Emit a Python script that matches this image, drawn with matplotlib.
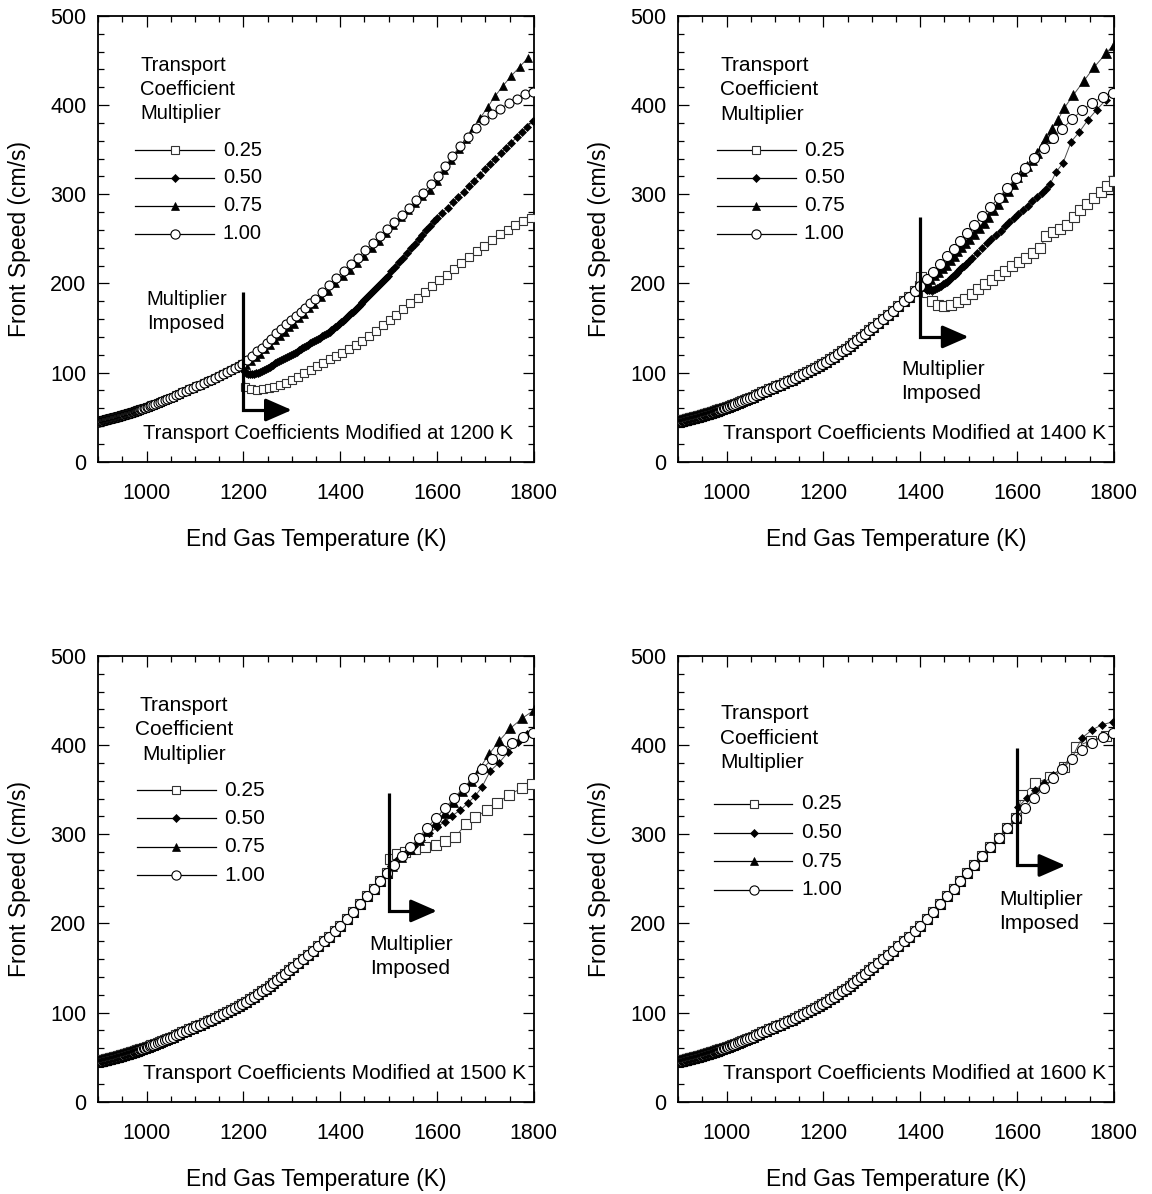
import numpy as np
import matplotlib
matplotlib.use('Agg')
import matplotlib.pyplot as plt
from matplotlib.ticker import MultipleLocator

plt.rcParams.update({'font.family': 'Liberation Sans', 'font.size': 15})

# unmodified run (multiplier 1.00), shared by every case up to the switch point
base_T = np.array([
    900, 901, 902, 903, 904, 905, 906, 907, 908, 909, 910, 911, 912, 913, 914,
    915, 916, 917, 918, 919, 920, 921, 922, 923, 924, 925, 926, 927, 928, 929,
    930,
    931, 932, 933, 934, 935, 936, 937, 938, 939, 940, 941, 942, 943, 944, 945,
    946, 947, 948, 949, 950, 951, 952, 953, 954, 955, 956, 957, 958, 959, 960,
    961, 962, 963, 964, 965, 966, 967, 968, 969, 970, 971, 972, 973, 974, 975,
    976, 977, 978, 979, 980, 981, 982, 983, 984, 985,
    987, 989, 991, 993.5, 996.5, 1000,
    1003, 1006.5, 1010, 1014, 1018, 1022.5, 1027, 1032, 1037, 1042, 1048,
    1054, 1060, 1067, 1074, 1081, 1088, 1095, 1102, 1110, 1118, 1126, 1134,
    1142, 1150, 1158, 1166, 1174, 1182, 1190, 1198,
    1206, 1214, 1222, 1230, 1238, 1246, 1254, 1262, 1270, 1278, 1286, 1294,
    1303, 1313, 1323, 1333, 1344, 1355, 1366, 1377, 1389, 1400, 1414, 1427,
    1441, 1455, 1469, 1483, 1497, 1512, 1528, 1545, 1562, 1580, 1598, 1617,
    1636, 1655, 1674, 1694, 1714, 1734, 1755, 1777, 1798])
base_v = np.array([
    45.0, 45.1, 45.3, 45.4, 45.6, 45.7, 45.8, 46.0, 46.1, 46.3, 46.4, 46.5, 46.7, 46.8, 47.0,
    47.1, 47.2, 47.4, 47.5, 47.7, 47.8, 47.9, 48.1, 48.2, 48.4, 48.5, 48.6, 48.8, 48.9, 49.1,
    49.2,
    49.4, 49.5, 49.7, 49.8, 50.0, 50.1, 50.3, 50.4, 50.6, 50.7, 50.9, 51.0, 51.2, 51.4, 51.5,
    51.7, 51.8, 52.0, 52.1, 52.3, 52.4, 52.6, 52.7, 52.9, 53.0, 53.2, 53.3, 53.5, 53.6, 53.8,
    54.0, 54.2, 54.3, 54.5, 54.7, 54.9, 55.1, 55.2, 55.4, 55.6, 55.8, 56.0, 56.1, 56.3, 56.5,
    56.7, 56.9, 57.0, 57.2, 57.4, 57.6, 57.8, 57.9, 58.1, 58.3,
    58.7, 59.0, 59.4, 59.8, 60.4, 61.0,
    61.7, 62.4, 63.2, 64.1, 65.0, 66.0, 67.0, 68.0, 69.1, 70.2, 71.6,
    73.0, 74.4, 76.1, 77.8, 79.4, 81.1, 82.8, 84.5, 86.4, 88.4, 90.2, 92.2,
    94.2, 96.2, 98.2, 100.4, 102.5, 104.8, 107.1, 109.5,
    112.2, 115.0, 117.8, 120.8, 123.8, 126.9, 130.1, 133.4, 136.8, 140.3, 143.8, 147.3,
    151.3, 155.7, 160.1, 164.5, 169.4, 174.4, 179.8, 185.2, 191.3, 197.0, 205.3, 213.2,
    221.7, 230.3, 239.1, 247.9, 256.6, 265.6, 275.2, 285.5, 296.1, 307.3, 318.0, 329.5,
    341.0, 352.2, 362.8, 373.5, 384.3, 394.0, 402.6, 409.5, 414.0])

# --- modified at 1200 K ---
p1_sq_T = [1204, 1216, 1228, 1240, 1252, 1264, 1276, 1288, 1300, 1313, 1326, 1339,
           1352, 1365, 1378, 1391, 1404, 1418, 1432, 1446, 1460, 1474, 1488, 1502,
           1516, 1530, 1545, 1560, 1575, 1590, 1605, 1620, 1635, 1650, 1666, 1682,
           1698, 1714, 1730, 1746, 1762, 1778, 1794]
p1_sq_v = [84, 81.5, 81, 81.5, 82.5, 84, 86, 88.5, 91.5, 95.2, 99.1, 103,
           106.9, 110.8, 114.7, 118.6, 122.5, 126.7, 131, 135.5, 141, 147, 153, 159,
           165, 171, 177.5, 184, 190.5, 197, 203.5, 210, 216.5, 223, 229.5, 236,
           242.5, 249, 255, 260, 265, 269.5, 273]
p1_di_T = [1202, 1206, 1210, 1214, 1218, 1222, 1226, 1230, 1234, 1238,
           1242, 1246, 1250, 1254, 1258, 1262, 1266, 1270, 1274, 1278,
           1282, 1286, 1290, 1294, 1298, 1302, 1306, 1310, 1314, 1318,
           1322, 1326, 1330, 1334, 1338, 1342, 1346, 1350, 1354, 1358,
           1362, 1366, 1370, 1374, 1378, 1382, 1386, 1390, 1394, 1398,
           1402, 1406, 1410, 1414, 1418, 1422, 1426, 1430, 1434, 1438,
           1442, 1446, 1450, 1454, 1458, 1462, 1466, 1470, 1474, 1478,
           1482, 1486, 1490, 1494, 1498,
           1506, 1514, 1522, 1530, 1538, 1546, 1554, 1562, 1570, 1578,
           1586, 1594, 1600,
           1611, 1622, 1633, 1644, 1655, 1666, 1677, 1688, 1699, 1710,
           1721, 1732, 1743, 1754, 1765, 1776, 1787, 1798]
p1_di_v = [102, 99.5, 98.2, 98, 98, 98.5, 99.2, 100, 100.8, 101.8,
           103, 104.2, 105.4, 106.6, 107.8, 109, 110.2, 111.4, 112.6, 113.8,
           115, 116.2, 117.4, 118.6, 119.8, 121, 122.3, 123.6, 124.9, 126.2,
           127.5, 128.8, 130.1, 131.4, 132.7, 134, 135.3, 136.6, 137.9, 139.2,
           140.5, 141.8, 143.1, 144.5, 146, 147.6, 149.3, 151, 152.8, 154.6,
           156.5, 158.4, 160.3, 162.3, 164.3, 166.3, 168.4, 170.5, 172.6, 174.7,
           176.8, 178.9, 181, 183.3, 185.6, 187.9, 190.2, 192.5, 194.8, 197.1,
           199.4, 201.7, 204, 206.3, 208.6,
           213.5, 218.5, 223.5, 228.7, 234, 239.3, 244.5, 249.7, 254.8, 259.8,
           264.7, 269.5, 273,
           279, 285, 291, 297, 303, 309, 315, 322, 328, 334,
           340, 346, 352, 358, 364, 370, 376, 382]
p1_tr_T = [1205, 1215, 1225, 1235, 1245, 1255, 1265, 1275, 1285, 1295, 1305, 1315,
           1325, 1335, 1345, 1360, 1375, 1390, 1405, 1420, 1435, 1450, 1465, 1480,
           1495, 1510, 1525, 1540, 1555, 1570, 1585, 1600, 1615, 1630, 1645, 1660,
           1675, 1690, 1705, 1720, 1737, 1754, 1771, 1788]
p1_tr_v = [109, 113, 117, 121, 126, 131, 136, 141, 146, 151, 155, 161,
           166, 172, 177, 185, 192, 200, 208, 215, 223, 231, 240, 248,
           257, 266, 274, 282, 290, 298, 305, 315, 327, 339, 351, 362,
           374, 386, 398, 410, 422, 433, 443, 453]
p1_ci_T = [1208, 1218, 1228, 1238, 1248, 1258, 1268, 1278, 1288, 1298, 1308, 1318,
           1328, 1338, 1348, 1362, 1377, 1392, 1407, 1422, 1437, 1452, 1467, 1482,
           1497, 1512, 1527, 1542, 1557, 1572, 1587, 1602, 1617, 1632, 1648, 1664,
           1680, 1697, 1714, 1731, 1748, 1765, 1782, 1798]
p1_ci_v = [114, 119, 124, 128, 133, 138, 144, 149, 154, 159, 163, 168,
           173, 178, 183, 190, 198, 206, 214, 222, 229, 237, 245, 253,
           261, 269, 277, 285, 294, 302, 311, 321, 332, 343, 354, 364,
           374, 383, 390, 396, 402, 407, 412, 415]

# --- modified at 1400 K ---
p2_sq_T = [1402, 1413, 1424, 1437, 1450, 1464, 1478, 1492, 1506, 1520, 1534, 1548,
           1562, 1576, 1590, 1605, 1619, 1633, 1647, 1661, 1675, 1689, 1703, 1717,
           1731, 1745, 1759, 1773, 1787, 1800]
p2_sq_v = [207, 190, 180, 176, 175, 176, 179, 183, 188, 194, 199, 204,
           209, 214, 219, 224, 229, 234, 240, 253, 258, 261, 266, 274,
           282, 289, 296, 303, 309, 315]
p2_di_T = [1403, 1407, 1411, 1415, 1419, 1423, 1427, 1431, 1435, 1439, 1443, 1447,
           1451, 1455, 1459, 1463, 1467, 1471, 1475, 1479, 1483, 1487, 1491, 1495,
           1500, 1508, 1517, 1527, 1537, 1547, 1557, 1566, 1575, 1584, 1593, 1603,
           1612, 1622, 1632, 1642, 1651, 1660, 1668, 1681, 1695, 1712, 1729, 1746,
           1765, 1784]
p2_di_v = [198, 196, 194, 193, 192.5, 192.5, 193, 194, 195, 196, 197.5, 199,
           200.5, 202, 204, 206, 208, 210, 212, 214, 216, 218, 220, 222,
           225, 229, 234, 240, 245, 250, 254, 259, 264, 269, 273, 278,
           282, 287, 292, 297, 301, 306, 311, 325, 335, 359, 370, 383,
           395, 406]
p2_tr_T = [1405, 1413, 1421, 1429, 1437, 1445, 1453, 1461, 1469, 1477, 1485, 1493,
           1501, 1511, 1521, 1531, 1541, 1551, 1561, 1571, 1581, 1591, 1601, 1611,
           1621, 1631, 1641, 1651, 1661, 1672, 1684, 1698, 1716, 1738, 1760, 1784,
           1800]
p2_tr_v = [199, 202, 205, 209, 213, 217, 221, 226, 231, 236, 241, 245,
           250, 256, 262, 268, 275, 282, 289, 297, 304, 312, 319, 326,
           332, 339, 346, 354, 363, 373, 383, 397, 411, 427, 443, 458,
           468]

# --- modified at 1500 K ---
p3_sq_T = [1502, 1517, 1534, 1555, 1576, 1597, 1617, 1638, 1659, 1679, 1703, 1724,
           1748, 1776, 1797]
p3_sq_v = [272, 278, 280, 284, 286, 288, 292, 297, 311, 319, 327, 335,
           344, 352, 356]
p3_di_T = [1505, 1520, 1536, 1552, 1568, 1584, 1600, 1616, 1632, 1648, 1664, 1679,
           1693, 1710, 1728, 1747, 1767, 1786]
p3_di_v = [264, 272, 279, 287, 294, 301, 308, 314, 321, 327, 335, 343,
           353, 371, 380, 392, 403, 412]
p3_tr_T = [1508, 1526, 1544, 1562, 1580, 1598, 1616, 1634, 1652, 1670, 1688, 1708,
           1729, 1752, 1776, 1800]
p3_tr_v = [264, 274, 284, 294, 304, 314, 324, 336, 348, 360, 374, 390,
           405, 419, 430, 439]

# --- modified at 1600 K ---
p4_sq_T = [1610, 1638, 1668, 1697, 1721, 1752, 1783]
p4_sq_v = [344, 357, 364, 376, 398, 405, 410]
p4_di_T = [1603, 1621, 1638, 1656, 1675, 1695, 1714, 1734, 1755, 1776, 1798]
p4_di_v = [331, 341, 350, 358, 366, 376, 386, 408, 417, 423, 426]

multipliers = ['0.25', '0.50', '0.75', '1.00']
styles = {
    '0.25': dict(marker='s', ms=6.8, mfc='white', mec='#333', mew=0.8, zorder=3),
    '0.50': dict(marker='D', ms=4.2, mfc='black', mec='black', mew=0.5, zorder=4),
    '0.75': dict(marker='^', ms=6.5, mfc='black', mec='black', mew=0.5, zorder=5),
    '1.00': dict(marker='o', ms=7.2, mfc='white', mec='black', mew=0.8, zorder=6),
}

# branch after the switch: arrays, 'base' = keep following the unmodified run,
# None = nothing after the switch
panels = [
    dict(t_imp=1200, scale=0.9, fs=14.5,
         branches={'0.25': (p1_sq_T, p1_sq_v), '0.50': (p1_di_T, p1_di_v),
                   '0.75': (p1_tr_T, p1_tr_v), '1.00': (p1_ci_T, p1_ci_v)},
         arrow=(190, 58), note=(1000, 181.5, 155.3),
         head=dict(x=0.096, ha='left', y=[0.890, 0.836, 0.782]),
         rows=dict(y0=0.699, dy=0.0624, x0=0.084, x1=0.266, xm=0.176, xl=0.286)),
    dict(t_imp=1400, scale=1.0, fs=15,
         branches={'0.25': (p2_sq_T, p2_sq_v), '0.50': (p2_di_T, p2_di_v),
                   '0.75': (p2_tr_T, p2_tr_v), '1.00': 'base'},
         arrow=(275, 140), note=(1361, 103, 76.8),
         head=dict(x=0.096, ha='left', y=[0.890, 0.836, 0.780]),
         rows=dict(y0=0.699, dy=0.0624, x0=0.088, x1=0.270, xm=0.178, xl=0.288)),
    dict(t_imp=1500, scale=1.0, fs=15,
         branches={'0.25': (p3_sq_T, p3_sq_v), '0.50': (p3_di_T, p3_di_v),
                   '0.75': (p3_tr_T, p3_tr_v), '1.00': 'base'},
         arrow=(346, 214), note=(1461, 175.9, 149.7),
         head=dict(x=0.197, ha='center', y=[0.890, 0.836, 0.780]),
         rows=dict(y0=0.699, dy=0.0635, x0=0.088, x1=0.270, xm=0.179, xl=0.289)),
    dict(t_imp=1600, scale=1.0, fs=15,
         branches={'0.25': (p4_sq_T, p4_sq_v), '0.50': (p4_di_T, p4_di_v),
                   '0.75': None, '1.00': 'base'},
         arrow=(397, 265), note=(1564, 226.4, 200.2),
         head=dict(x=0.096, ha='left', y=[0.870, 0.815, 0.760]),
         rows=dict(y0=0.668, dy=0.0643, x0=0.083, x1=0.262, xm=0.173, xl=0.283)),
]

positions = [[0.0853, 0.6133, 0.378, 0.3733], [0.5888, 0.6133, 0.378, 0.3733],
             [0.0853, 0.0773, 0.378, 0.3733], [0.5888, 0.0773, 0.378, 0.3733]]

fig = plt.figure(figsize=(11.52, 11.94), dpi=100)

for pos, p in zip(positions, panels):
    ax = fig.add_axes(pos)
    t_imp = p['t_imp']
    keep = base_T <= t_imp

    for m in multipliers:
        br = p['branches'][m]
        if br == 'base':
            T, v = base_T, base_v
        elif br is None:
            T, v = base_T[keep], base_v[keep]
        else:
            T = np.concatenate([base_T[keep], br[0]])
            v = np.concatenate([base_v[keep], br[1]])
        st = dict(styles[m])
        st['ms'] = st['ms'] * p['scale']
        ax.plot(T, v, color='0.3', lw=0.7, **st)

    # switch-point marker: vertical bar then arrow to the right
    top, bot = p['arrow']
    ax.plot([t_imp, t_imp, t_imp + 60], [top, bot, bot], color='k', lw=2.3,
            solid_joinstyle='miter', solid_capstyle='butt', zorder=8)
    ax.annotate('', xy=(t_imp + 100, bot), xytext=(t_imp + 50, bot),
                arrowprops=dict(arrowstyle='-|>,head_length=0.8,head_width=0.35',
                                lw=2.3, color='k', mutation_scale=20,
                                shrinkA=0, shrinkB=0), zorder=8)
    nx, ny1, ny2 = p['note']
    ax.text(nx, ny1, 'Multiplier', fontsize=p['fs'], ha='left', va='center')
    ax.text(nx, ny2, 'Imposed', fontsize=p['fs'], ha='left', va='center')

    ax.text(993, 32, 'Transport Coefficients Modified at %d K' % t_imp,
            fontsize=p['fs'], ha='left', va='center', zorder=9)

    # legend block
    h = p['head']
    for line, yy in zip(['Transport', 'Coefficient', 'Multiplier'], h['y']):
        ax.text(h['x'], yy, line, transform=ax.transAxes, fontsize=p['fs'],
                ha=h['ha'], va='center')
    r = p['rows']
    for i, m in enumerate(multipliers):
        yy = r['y0'] - i * r['dy']
        ax.plot([r['x0'], r['x1']], [yy, yy], transform=ax.transAxes,
                color='k', lw=0.9, clip_on=False)
        st = dict(styles[m])
        st['ms'] = st['ms'] * 0.92
        ax.plot([r['xm']], [yy], transform=ax.transAxes, clip_on=False, **st)
        ax.text(r['xl'], yy, m, transform=ax.transAxes, fontsize=p['fs'],
                ha='left', va='center')

    ax.set_xlim(900, 1800)
    ax.set_ylim(0, 500)
    ax.xaxis.set_major_locator(MultipleLocator(200))
    ax.xaxis.set_minor_locator(MultipleLocator(50))
    ax.yaxis.set_major_locator(MultipleLocator(100))
    ax.yaxis.set_minor_locator(MultipleLocator(20))
    ax.tick_params(which='both', direction='in', top=True, right=True, width=0.9)
    ax.tick_params(which='major', length=8)
    ax.tick_params(which='minor', length=4)
    ax.tick_params(axis='x', labelsize=15.5, pad=15)
    ax.tick_params(axis='y', labelsize=15.5, pad=8.5)
    for sp in ax.spines.values():
        sp.set_linewidth(1.3)

    ax.set_xlabel('End Gas Temperature (K)', fontsize=16.5)
    ax.set_ylabel('Front Speed (cm/s)', fontsize=16.5)
    ax.xaxis.set_label_coords(0.5, -0.175)
    ax.xaxis.label.set_va('center')
    ax.yaxis.set_label_coords(-0.18, 0.5)
    ax.yaxis.label.set_va('center')

fig.savefig('out.png', dpi=100)
